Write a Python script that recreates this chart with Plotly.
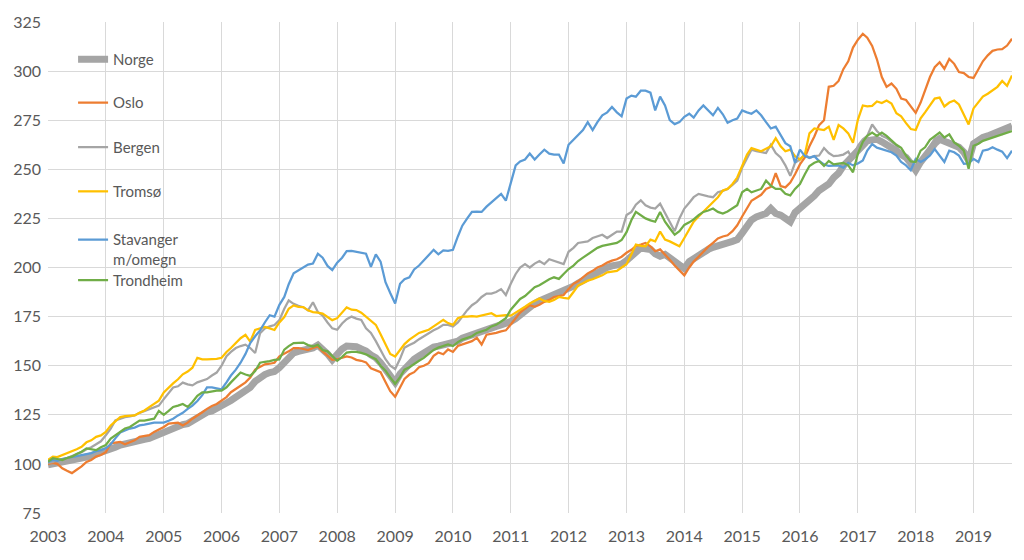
import pandas as pd
import plotly.graph_objects as go

# Monthly index values, Jan 2003 .. Sep 2019 (2003 = 100)
months = pd.date_range("2003-01-01", "2019-09-01", freq="MS")

norge = [
    99.5, 100, 100.3, 100.5, 101, 101.2, 101.8, 102.5, 103, 104, 105, 105.8,
    106.2, 107.5, 108.5, 109.6, 110, 110.5, 111.2, 112, 112.5, 113, 114, 115,
    116.3, 117, 118, 119.6, 120, 120.5, 122, 123, 124.5, 126.3, 127, 128,
    129.5, 131, 132.3, 134, 135.7, 137.5, 139, 142, 144, 145.5, 146.5, 147,
    149, 151.5, 155, 156.5, 157.3, 157.8, 158.2, 159, 160.5, 158.5, 156, 153,
    156.5, 158.5, 160, 159.8, 159.7, 158.5, 157.5, 155.5, 154, 151.5, 148.5, 144.5,
    141.5, 145.8, 148.5, 151, 153.3, 155, 156.5, 158.3, 159.5, 160, 160.5, 161,
    162, 162.5, 164, 165, 166, 166.7, 167.5, 168.5, 169.2, 170, 170.8, 171.5,
    172.5, 174, 176, 178.3, 180, 181.7, 183, 184, 185, 186.7, 187, 188,
    189.5, 190.5, 192, 193.3, 195, 196.7, 197.5, 199.2, 200, 200.8, 201.2, 201.7,
    203.5, 206, 208.3, 210, 209.5, 209.2, 207, 205.8, 206.7, 205, 203, 200.5,
    199.5, 203, 204.5, 206.7, 208, 209.2, 210.3, 210.8, 211.7, 212.5, 213.3, 214.2,
    217.5, 221, 224.2, 225.8, 226.5, 227.5, 230, 227.5, 226.7, 225, 223.3, 228,
    230, 232.5, 235, 236.5, 239.2, 241, 242.5, 245.8, 248, 251.7, 254.5, 257,
    260, 262.5, 264.5, 265, 265.3, 264, 262.8, 260.8, 259.5, 257.5, 256, 253,
    249.5, 253.7, 257, 260, 263, 265.3, 264.5, 263.7, 262.8, 261.2, 258.7, 254.5,
    263, 265, 266.2, 267, 267.8, 269, 269.5, 270.3, 272,
]

oslo = [
    100, 100.5, 100, 97.8, 96.5, 95.3, 97, 98.7, 101, 102, 103.7, 104.5,
    106, 110.4, 110.8, 111.2, 110, 111, 112, 113.8, 114.2, 114.6, 116.3, 117.5,
    118.8, 120.5, 120.8, 121, 119.6, 121, 123, 124.5, 126.3, 128, 129.5, 130.5,
    132.3, 134, 136.5, 138, 139.8, 141.5, 144, 148, 149.5, 150.7, 151, 151.5,
    154.8, 156, 157.3, 159, 159, 158.5, 158, 159, 159.8, 157.3, 155, 153,
    153.3, 154, 154.7, 154.2, 153, 152.5, 151.7, 148.7, 147.5, 146.7, 141.7, 137,
    134.2, 139.2, 143.3, 145.5, 146.7, 149.2, 150, 151.3, 155, 156.7, 155.8, 158.3,
    157, 160, 160.8, 161.5, 162.5, 164.2, 160.8, 165.8, 166.2, 166.7, 167.5, 168,
    171, 174, 177, 179, 180.8, 180, 181, 182.5, 183.5, 185, 185.5, 186,
    189, 191.7, 193, 195, 197, 198.3, 200, 201, 202.5, 203.5, 204.2, 205.5,
    207.5, 209, 211, 211.7, 212.5, 210.8, 208.3, 209.2, 206.7, 204, 201, 198.5,
    196, 200, 203, 205.5, 208, 210.6, 212.5, 214.8, 215.8, 216.4, 218.5, 221.5,
    226, 230, 234, 235.5, 237, 240, 241, 248, 241.5, 240.8, 243.3, 247.5,
    252.5, 256, 261.7, 266.7, 272.5, 275, 292, 292.5, 295, 301, 305, 312,
    316, 319, 317, 312.8, 306, 297, 292, 293.7, 291, 286, 285.3, 282,
    278.7, 284, 290, 297, 302, 304.5, 301.2, 306.2, 303.7, 299.5, 299, 297,
    296.5, 301, 305, 308, 310.3, 311, 311.2, 313, 316.5,
]

bergen = [
    100.5, 101, 102, 102.5, 103, 104, 105, 106, 107.5, 108.5, 110, 111.5,
    114.6, 118, 122.1, 123, 123.8, 124.2, 124.7, 126, 127, 128, 129, 129.7,
    133, 136.4, 138.9, 139.5, 141.4, 140.5, 140, 141.5, 142.3, 143.2, 145, 146.5,
    150, 154.8, 157, 159, 160, 160.7, 159, 156.5, 166.5, 169, 170, 170.7,
    173.2, 179, 183.2, 181.5, 180.5, 179.8, 178.2, 182.3, 177.3, 175.5, 172, 169,
    168.3, 171.5, 173.7, 175, 174, 173.3, 169, 166.7, 162.5, 158.3, 153.3, 150,
    148.3, 153.5, 159.2, 160.5, 161.7, 163.5, 165, 166.7, 168, 169.2, 170.8, 170.8,
    170, 172, 175, 178.3, 180.8, 182.5, 185, 186.7, 186.7, 187.5, 189, 186,
    191.7, 196.7, 200, 201.7, 200, 202, 203.3, 201.7, 204.2, 203.5, 202.5, 201.7,
    208, 210, 212.5, 213, 213.3, 215, 216, 216.7, 215, 216.5, 218.3, 218.3,
    226.7, 228.3, 232, 234.2, 231.7, 230.5, 230, 232.5, 228, 223.3, 218.5, 225,
    230, 233, 235.8, 237.5, 236.7, 236.2, 235.8, 238.3, 239, 240, 242, 244.2,
    250.8, 255.8, 260, 259.2, 258.8, 258.3, 262.5, 258.3, 256, 252, 246.7, 253.3,
    255, 257.5, 255.8, 256.7, 257, 260.8, 258.3, 256.7, 257, 257.5, 259, 255,
    262, 265.3, 267, 272.8, 269.5, 267, 266, 264, 262, 258, 255, 252.5,
    250, 255, 258, 262, 265.5, 267, 265, 264.5, 263, 262, 257, 253,
    262, 264, 265, 266.5, 267.5, 268.5, 268, 269.5, 271,
]

tromso = [
    102, 103.7, 103.5, 104.5, 105.5, 106.2, 107.5, 108.7, 111, 112, 113.8, 114.5,
    116.3, 119.6, 121.5, 123.8, 124.3, 124.5, 124.7, 126, 127.2, 128.9, 130.5, 132.2,
    136.4, 138.9, 141, 143.1, 145.6, 147, 149, 154, 153.2, 153.2, 153.2, 153.5,
    154, 157, 159, 161.8, 164, 165.7, 162.3, 168.2, 169, 169.8, 169, 168.2,
    172, 174.8, 179, 180.7, 180, 179.8, 178.2, 177.3, 177, 176.5, 174.8, 173.2,
    174.2, 177, 179.7, 178.5, 178.3, 177, 175, 172.5, 170.8, 166, 161, 156,
    154.7, 158.3, 161, 163.3, 165, 166.7, 167.5, 168.3, 170, 171.7, 173.3, 171.7,
    170.8, 174.2, 175, 175, 175.3, 175, 175.5, 175.8, 176.7, 175.3, 175.5, 175.8,
    175.5, 177, 178.3, 180, 181.7, 183, 184.2, 183, 182.5, 183.5, 185, 184.5,
    184.2, 187.5, 190.8, 192, 193.3, 194, 195, 196, 197.5, 198, 198.3, 200,
    201.7, 206.7, 211.7, 211, 210.8, 214.2, 213.3, 218.3, 214.2, 213.3, 212, 210.8,
    215, 219, 223.3, 226, 228.3, 231, 233.3, 235.8, 239.2, 240, 242.5, 245.8,
    251.7, 257.5, 260.8, 260, 259.2, 260.5, 261.7, 265.8, 261.7, 259.2, 260, 256.7,
    255, 257.5, 268.3, 270.8, 270.5, 270, 271.7, 265, 272.5, 270.8, 268.3, 263.5,
    275.3, 282.5, 282, 282.3, 284.5, 283.7, 285, 283.5, 278.5, 277, 273.5, 270.5,
    270, 276, 279, 282.8, 286, 286.5, 282, 284, 285, 283, 278, 272.8,
    281, 284, 287, 288.5, 290, 292, 295, 292.5, 297.8,
]

stavanger = [
    101, 102, 101.5, 102.5, 103, 103.7, 104, 104.5, 105, 105.5, 106.5, 107,
    108, 110, 113, 116, 117, 118, 118.5, 119.6, 120, 120.5, 121, 121,
    121, 122, 123, 124.7, 126, 128, 129.7, 132, 135, 139, 139, 138.5,
    138, 141.5, 145, 148, 151.5, 156, 161.5, 165, 168, 172, 175.7, 175,
    181, 185, 191.5, 197, 198.5, 200, 201.5, 202, 207, 205, 200.8, 198.7,
    202.5, 205, 208.3, 208.5, 208, 207.5, 207, 200.3, 206.7, 203, 192.5, 187,
    181.7, 191.7, 194, 195, 199, 201, 203.7, 206, 209, 206.7, 208.7, 208.5,
    209, 215.8, 221.3, 225, 228.3, 228.5, 228.3, 231, 233.3, 235.5, 237.5, 234,
    242.5, 252, 254, 255, 258, 255, 257.5, 260, 258, 257.5, 257.5, 253,
    262.5, 265, 267, 270, 274, 270, 274, 277.5, 279, 281.7, 279, 277,
    286, 287.5, 287, 290, 290, 289, 280, 287, 282.5, 275, 273, 274,
    276.7, 278.3, 276.3, 280, 282.5, 280, 277.5, 281.3, 278, 273.7, 275, 275.8,
    280, 279, 278.3, 280, 277.5, 274, 270.8, 271.7, 267.5, 263.3, 261.7, 253.3,
    260, 256.7, 255.8, 256.7, 254.2, 252.5, 251.7, 252, 252, 250.8, 253.3, 252,
    253, 254.5, 259.5, 262.8, 261, 260.3, 259.5, 258.7, 257, 253.7, 252, 249.5,
    255.3, 253.7, 255, 257, 260.3, 257, 253.7, 259.5, 258.7, 257, 252.8, 253,
    255.3, 253.7, 259.5, 260, 261.2, 260, 259, 255.7, 259.5,
]

trondheim = [
    101.2, 102.9, 102.5, 102, 103, 103.7, 105, 106.2, 107.9, 107.5, 107, 108.5,
    109.6, 112.9, 114.6, 116.5, 118, 118.8, 120.5, 122.1, 122.1, 122.5, 123, 127,
    125, 127, 129, 129.7, 130.5, 129, 131.5, 134.7, 136.4, 136.4, 137, 137.3,
    137.3, 139, 141.5, 144, 146.5, 145.5, 144.8, 147.3, 151.5, 152, 152.3, 153,
    153.2, 158.2, 160, 161.5, 161.8, 161.8, 160.5, 159.8, 160.7, 158, 157.3, 155,
    152.5, 154.5, 156.7, 157, 157, 156.5, 155.8, 154.5, 153.3, 150, 147.5, 144,
    140.8, 144.2, 148, 149.2, 151, 152.5, 154, 155.8, 158, 159.2, 160, 160.8,
    160, 162, 163.3, 164, 165, 166.7, 167.5, 168.3, 170, 170.8, 172.5, 174.2,
    178.5, 181.7, 184, 185.5, 187.5, 190, 191, 192.5, 194, 195, 194.2, 196.7,
    199.2, 201, 203.3, 205, 206.7, 208, 210, 211, 211.7, 212, 212.5, 214,
    218, 224.2, 228.3, 226.5, 225, 224, 223.3, 228.3, 223.3, 220, 216.7, 218.5,
    221.7, 223, 224.5, 226.7, 228.3, 229, 230, 228.3, 227.5, 228.5, 230, 231.7,
    238.3, 240, 238.3, 239, 240, 244.2, 241.7, 240, 240, 237.5, 236.7, 240,
    242.5, 247.5, 251.7, 253.3, 254.2, 251.7, 254.2, 252.5, 253, 253.3, 252, 248.5,
    258, 264, 267, 268.7, 267, 268.7, 267, 264.5, 262.5, 261, 257, 254,
    253.7, 259.5, 261.2, 265, 267, 268.7, 266.2, 267.8, 263.7, 262, 259.5, 250.3,
    262, 263, 264.5, 265.3, 266, 267, 267.8, 268.5, 269.5,
]

series = [
    ("Norge", norge, "#A5A5A5", 7),
    ("Oslo", oslo, "#ED7D31", 2.25),
    ("Bergen", bergen, "#A5A5A5", 2.25),
    ("Tromsø", tromso, "#FFC000", 2.25),
    ("Stavanger<br>m/omegn", stavanger, "#5B9BD5", 2.25),
    ("Trondheim", trondheim, "#70AD47", 2.25),
]

y_ticks = [75, 100, 125, 150, 175, 200, 225, 250, 275, 300, 325]

# legend positions (paper coords); the two-line entry is anchored at its top
legend_y = [0.9236, 0.8353, 0.7449, 0.6546, 0.5901, 0.4739]
legend_names = ["legend", "legend2", "legend3", "legend4", "legend5", "legend6"]

fig = go.Figure()
for (name, vals, color, width), lg in zip(series, legend_names):
    fig.add_trace(go.Scatter(
        x=months, y=vals, name=name, mode="lines",
        line=dict(color=color, width=width),
        legend=lg, hoverinfo="skip",
    ))

font_family = "Lato, 'Open Sans', sans-serif"
layout_legends = {}
for lg, ly in zip(legend_names, legend_y):
    layout_legends[lg] = dict(
        x=0.026, y=ly, xanchor="left",
        yanchor="middle" if lg != "legend5" else "top",
        bgcolor="rgba(0,0,0,0)", borderwidth=0,
        font=dict(family=font_family, size=15, color="#595959"),
        valign="top",
    )

fig.update_layout(
    width=1024, height=560,
    margin=dict(l=48, r=12, t=15, b=47),
    paper_bgcolor="white", plot_bgcolor="white",
    showlegend=True,
    font=dict(family=font_family, size=16, color="#595959"),
    xaxis=dict(
        type="date",
        range=["2003-01-01", "2019-09-01"],
        dtick="M12", tick0="2003-01-01", tickformat="%Y",
        showgrid=True, gridcolor="#D9D9D9", gridwidth=1,
        zeroline=False, showline=False, ticks="",
        ticklabelstandoff=12,
        tickfont=dict(family=font_family, size=16, color="#595959"),
    ),
    yaxis=dict(
        range=[75, 325], tickvals=y_ticks,
        showgrid=True, gridcolor="#D9D9D9", gridwidth=1,
        zeroline=False, showline=False, ticks="",
        ticklabelstandoff=6,
        tickfont=dict(family=font_family, size=16, color="#595959"),
    ),
    **layout_legends,
)

fig.write_html("out.html")
